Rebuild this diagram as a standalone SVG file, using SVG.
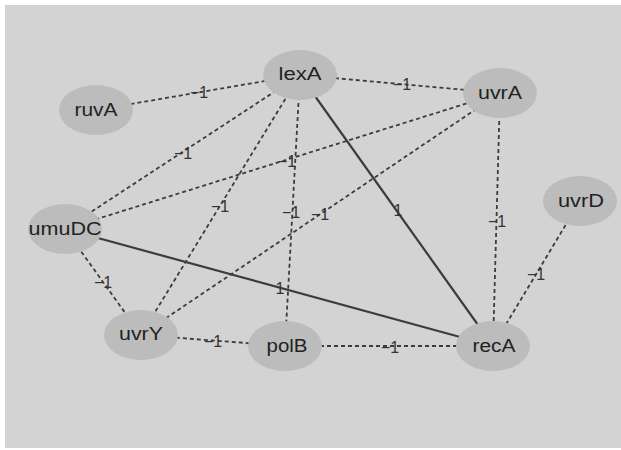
<svg xmlns="http://www.w3.org/2000/svg" width="621" height="450" viewBox="0 0 621 450">
<style>
.bg{fill:#d3d3d3}
.n ellipse{fill:#bcbcbc}
.n text{font-family:"Liberation Sans",Arial,sans-serif;font-size:18px;fill:#222;text-anchor:middle;dominant-baseline:central}
.d{stroke:#3c3c3c;stroke-width:1.8;stroke-dasharray:4,3;fill:none}
.s{stroke:#3c3c3c;stroke-width:2.2;fill:none}
.l{font-family:"Liberation Sans",Arial,sans-serif;font-size:16px;fill:#333;text-anchor:middle;dominant-baseline:central}
</style>
<rect width="621" height="450" fill="#fff"/>
<rect class="bg" x="5" y="5" width="616" height="443"/>
<g id="edges">
<line class="d" x1="96" y1="110" x2="300" y2="75"/>
<line class="d" x1="300" y1="75" x2="500" y2="93"/>
<line class="s" x1="300" y1="75" x2="493" y2="346"/>
<line class="d" x1="300" y1="75" x2="65" y2="229"/>
<line class="d" x1="300" y1="75" x2="141" y2="335"/>
<line class="d" x1="300" y1="75" x2="285" y2="346"/>
<line class="d" x1="500" y1="93" x2="65" y2="229"/>
<line class="d" x1="500" y1="93" x2="141" y2="335"/>
<line class="d" x1="500" y1="93" x2="493" y2="346"/>
<line class="d" x1="580" y1="201" x2="493" y2="346"/>
<line class="s" x1="65" y1="229" x2="493" y2="346"/>
<line class="d" x1="65" y1="229" x2="141" y2="335"/>
<line class="d" x1="141" y1="335" x2="285" y2="346"/>
<line class="d" x1="285" y1="346" x2="493" y2="346"/>
<text class="l" x="199" y="92">−1</text>
<text class="l" x="402" y="84">−1</text>
<text class="l" x="398" y="210">1</text>
<text class="l" x="183" y="153">−1</text>
<text class="l" x="220" y="206">−1</text>
<text class="l" x="291" y="212">−1</text>
<text class="l" x="287" y="161">−1</text>
<text class="l" x="320" y="214">−1</text>
<text class="l" x="497" y="221">−1</text>
<text class="l" x="536" y="274">−1</text>
<text class="l" x="280" y="288">1</text>
<text class="l" x="103" y="282">−1</text>
<text class="l" x="213" y="341">−1</text>
<text class="l" x="390" y="347">−1</text>
</g>
<g id="lexA" class="n"><ellipse cx="300" cy="75" rx="37" ry="25"/><text x="300" y="74" textLength="43" lengthAdjust="spacingAndGlyphs">lexA</text></g>
<g id="ruvA" class="n"><ellipse cx="96" cy="110" rx="37" ry="25"/><text x="96" y="110" textLength="43" lengthAdjust="spacingAndGlyphs">ruvA</text></g>
<g id="uvrA" class="n"><ellipse cx="500" cy="93" rx="37" ry="25"/><text x="500" y="93" textLength="44" lengthAdjust="spacingAndGlyphs">uvrA</text></g>
<g id="uvrD" class="n"><ellipse cx="580" cy="201" rx="37" ry="25"/><text x="581" y="201" textLength="46" lengthAdjust="spacingAndGlyphs">uvrD</text></g>
<g id="umuDC" class="n"><ellipse cx="65" cy="229" rx="37" ry="25"/><text x="65" y="229" textLength="73" lengthAdjust="spacingAndGlyphs">umuDC</text></g>
<g id="uvrY" class="n"><ellipse cx="141" cy="335" rx="37" ry="25"/><text x="141" y="334" textLength="44" lengthAdjust="spacingAndGlyphs">uvrY</text></g>
<g id="polB" class="n"><ellipse cx="285" cy="346" rx="37" ry="25"/><text x="287" y="346" textLength="41" lengthAdjust="spacingAndGlyphs">polB</text></g>
<g id="recA" class="n"><ellipse cx="493" cy="346" rx="37" ry="25"/><text x="494" y="346" textLength="43" lengthAdjust="spacingAndGlyphs">recA</text></g>
</svg>
